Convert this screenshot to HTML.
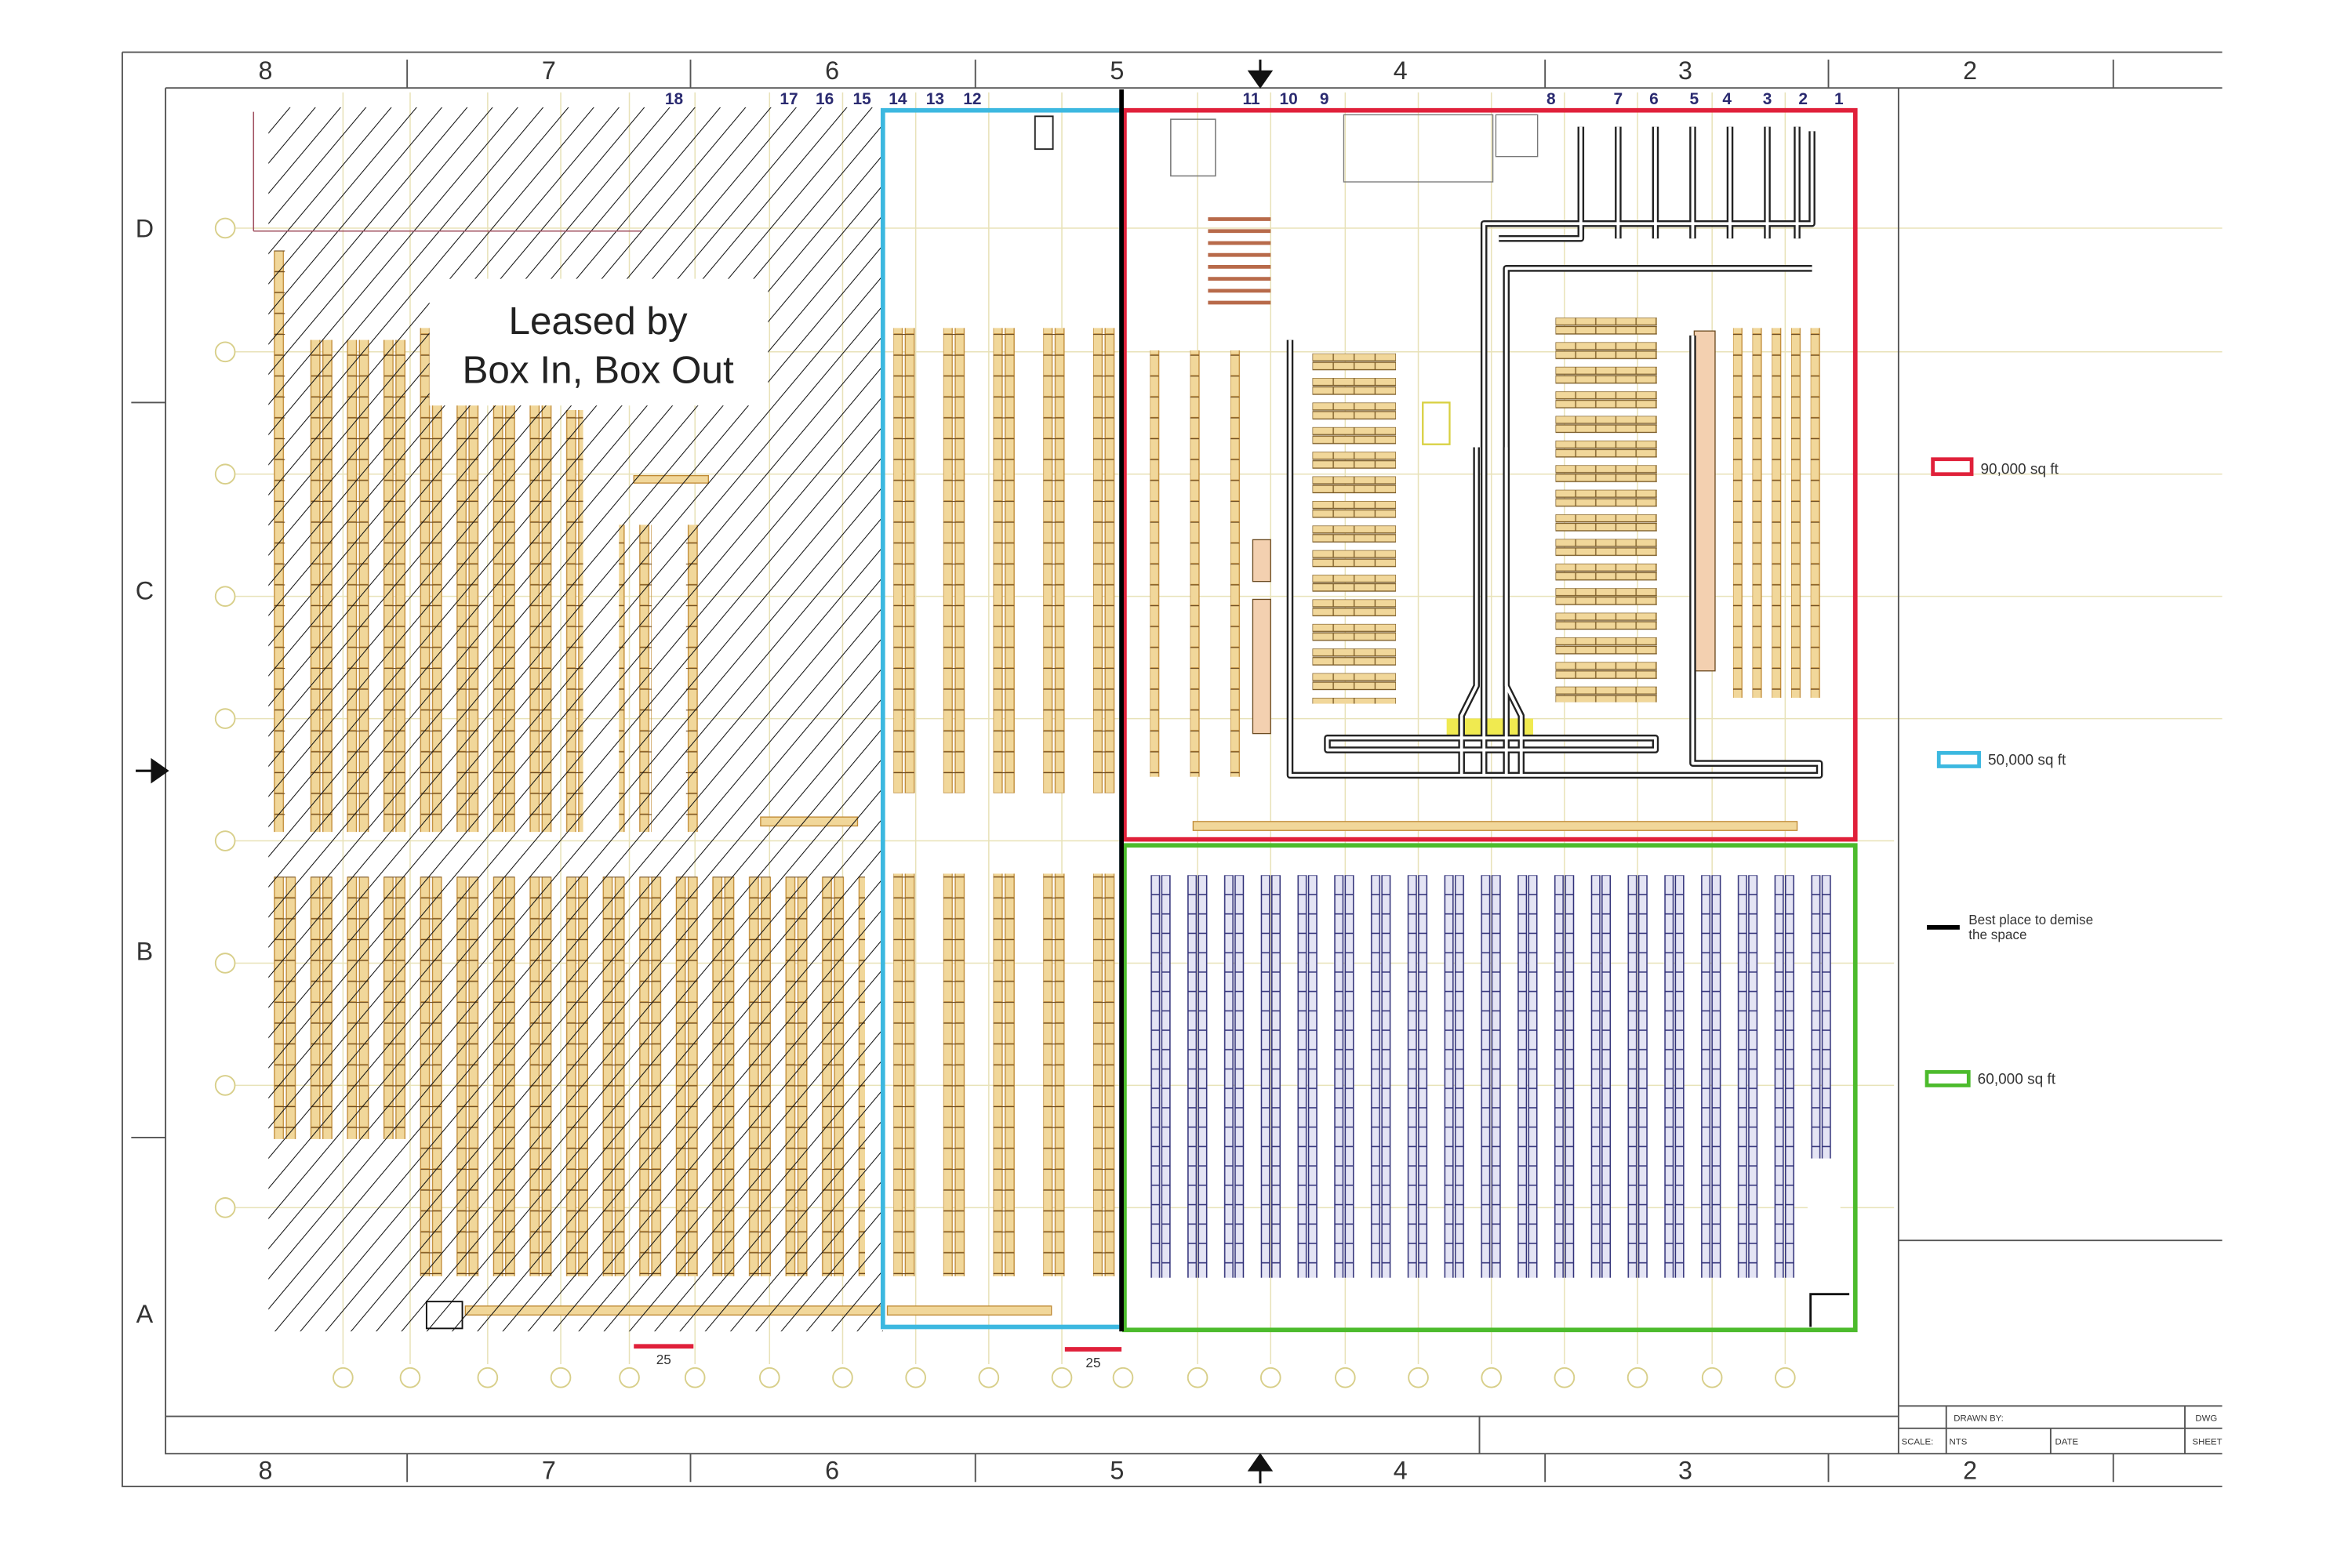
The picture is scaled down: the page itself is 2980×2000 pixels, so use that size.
<!DOCTYPE html>
<html><head><meta charset="utf-8"><style>
html,body{margin:0;padding:0;background:#fff;}
svg{display:block;}
text{font-family:"Liberation Sans",sans-serif;}
</style></head><body>
<svg width="2980" height="2000" viewBox="0 0 1567 1051.7" preserveAspectRatio="none" xmlns="http://www.w3.org/2000/svg">
<defs>
<pattern id="hatch" patternUnits="userSpaceOnUse" width="13" height="13" patternTransform="rotate(40)">
<line x1="0" y1="0" x2="0" y2="13" stroke="#111" stroke-width="1.1"/></pattern>
<pattern id="rkT" patternUnits="userSpaceOnUse" x="183" y="0" width="24.5" height="14">
<rect x="1" y="0" width="6" height="14" fill="#f1d79a" stroke="#c08a35" stroke-width="0.7"/>
<rect x="9" y="0" width="6" height="14" fill="#f1d79a" stroke="#c08a35" stroke-width="0.7"/>
<line x1="1" y1="0.3" x2="15" y2="0.3" stroke="#6b4a20" stroke-width="0.6"/></pattern>
<pattern id="rkC" patternUnits="userSpaceOnUse" x="599" y="0" width="33.5" height="14">
<rect x="0" y="0" width="6" height="14" fill="#f1d79a" stroke="#c08a35" stroke-width="0.7"/>
<rect x="8" y="0" width="6" height="14" fill="#f1d79a" stroke="#c08a35" stroke-width="0.7"/>
<line x1="0" y1="0.3" x2="14" y2="0.3" stroke="#6b4a20" stroke-width="0.6"/></pattern>
<pattern id="rkR" patternUnits="userSpaceOnUse" x="771" y="0" width="27" height="14">
<rect x="0" y="0" width="6" height="14" fill="#f1d79a" stroke="#c08a35" stroke-width="0.7"/>
<line x1="0" y1="0.3" x2="6" y2="0.3" stroke="#6b4a20" stroke-width="0.6"/></pattern>
<pattern id="rkV" patternUnits="userSpaceOnUse" x="1162" y="0" width="13" height="14">
<rect x="0" y="0" width="6" height="14" fill="#f1d79a" stroke="#c08a35" stroke-width="0.7"/>
<line x1="0" y1="0.3" x2="6" y2="0.3" stroke="#6b4a20" stroke-width="0.6"/></pattern>
<pattern id="rkH" patternUnits="userSpaceOnUse" x="880" y="237" width="14" height="16.5">
<rect x="0" y="0" width="14" height="5" fill="#f1d79a" stroke="#7a5a25" stroke-width="0.7"/>
<rect x="0" y="6" width="14" height="5" fill="#f1d79a" stroke="#7a5a25" stroke-width="0.7"/></pattern>
<pattern id="rkH2" patternUnits="userSpaceOnUse" x="1043" y="213" width="13.5" height="16.5">
<rect x="0" y="0" width="13.5" height="5" fill="#f1d79a" stroke="#7a5a25" stroke-width="0.7"/>
<rect x="0" y="6" width="13.5" height="5" fill="#f1d79a" stroke="#7a5a25" stroke-width="0.7"/></pattern>
<pattern id="rkB" patternUnits="userSpaceOnUse" x="771" y="587" width="24.6" height="13">
<rect x="1" y="0" width="5.5" height="13" fill="#e4e4f4" stroke="#303078" stroke-width="0.8"/>
<rect x="8" y="0" width="5.5" height="13" fill="#e4e4f4" stroke="#303078" stroke-width="0.8"/></pattern>
</defs>

<g stroke="#e8e2b8" stroke-width="0.8">
<line x1="230" y1="62" x2="230" y2="915"/><line x1="275" y1="62" x2="275" y2="915"/><line x1="327" y1="62" x2="327" y2="915"/><line x1="376" y1="62" x2="376" y2="915"/><line x1="422" y1="62" x2="422" y2="915"/><line x1="466" y1="62" x2="466" y2="915"/><line x1="516" y1="62" x2="516" y2="915"/><line x1="565" y1="62" x2="565" y2="915"/><line x1="614" y1="62" x2="614" y2="915"/><line x1="663" y1="62" x2="663" y2="915"/><line x1="712" y1="62" x2="712" y2="915"/><line x1="803" y1="62" x2="803" y2="915"/><line x1="852" y1="62" x2="852" y2="915"/><line x1="902" y1="62" x2="902" y2="915"/><line x1="951" y1="62" x2="951" y2="915"/><line x1="1000" y1="62" x2="1000" y2="915"/><line x1="1049" y1="62" x2="1049" y2="915"/><line x1="1098" y1="62" x2="1098" y2="915"/><line x1="1148" y1="62" x2="1148" y2="915"/><line x1="1197" y1="62" x2="1197" y2="915"/>
<line x1="158" y1="153" x2="1490" y2="153"/><line x1="158" y1="236" x2="1490" y2="236"/><line x1="158" y1="318" x2="1490" y2="318"/><line x1="158" y1="400" x2="1490" y2="400"/><line x1="158" y1="482" x2="1490" y2="482"/><line x1="158" y1="564" x2="1270" y2="564"/><line x1="158" y1="646" x2="1270" y2="646"/><line x1="158" y1="728" x2="1270" y2="728"/><line x1="158" y1="810" x2="1270" y2="810"/>
</g>

<g stroke="#555" stroke-width="1" fill="none">
<path d="M82 35 H1490 M82 35 V997 H1490"/>
<path d="M111 59 H1490 M111 59 V975 H1490 M111 950 H1273 M992 950 V975"/>
<line x1="273" y1="40" x2="273" y2="59"/><line x1="463" y1="40" x2="463" y2="59"/><line x1="654" y1="40" x2="654" y2="59"/><line x1="1036" y1="40" x2="1036" y2="59"/><line x1="1226" y1="40" x2="1226" y2="59"/><line x1="1417" y1="40" x2="1417" y2="59"/>
<line x1="273" y1="975" x2="273" y2="994"/><line x1="463" y1="975" x2="463" y2="994"/><line x1="654" y1="975" x2="654" y2="994"/><line x1="1036" y1="975" x2="1036" y2="994"/><line x1="1226" y1="975" x2="1226" y2="994"/><line x1="1417" y1="975" x2="1417" y2="994"/>
<line x1="88" y1="270" x2="111" y2="270"/><line x1="88" y1="763" x2="111" y2="763"/>
<line x1="1273" y1="59" x2="1273" y2="975"/>
<path d="M1273 832 H1490 M1273 943 H1490 M1273 958 H1490 M1305 943 V975 M1375 958 V975 M1465 943 V975"/>
</g>
<g font-size="17" fill="#333" text-anchor="middle">
<text x="178" y="53">8</text><text x="368" y="53">7</text><text x="558" y="53">6</text><text x="749" y="53">5</text><text x="939" y="53">4</text><text x="1130" y="53">3</text><text x="1321" y="53">2</text>
<text x="178" y="992">8</text><text x="368" y="992">7</text><text x="558" y="992">6</text><text x="749" y="992">5</text><text x="939" y="992">4</text><text x="1130" y="992">3</text><text x="1321" y="992">2</text>
<text x="97" y="159">D</text><text x="97" y="402">C</text><text x="97" y="644">B</text><text x="97" y="887">A</text>
</g>
<g fill="#111" stroke="#111" stroke-width="1.6">
<line x1="845" y1="40" x2="845" y2="58"/><path d="M838 48 L852 48 L845 58 Z"/>
<line x1="845" y1="976" x2="845" y2="995"/><path d="M838 986 L852 986 L845 976 Z"/>
<line x1="91" y1="517" x2="112" y2="517"/><path d="M102 510 L102 524 L112 517 Z"/>
</g>
<g font-family="Liberation Serif,serif" font-size="11" fill="#2a2a70" text-anchor="middle" font-weight="bold">
<text x="452" y="70">18</text><text x="529" y="70">17</text><text x="553" y="70">16</text><text x="578" y="70">15</text><text x="602" y="70">14</text><text x="627" y="70">13</text><text x="652" y="70">12</text><text x="839" y="70">11</text><text x="864" y="70">10</text><text x="888" y="70">9</text><text x="1040" y="70">8</text><text x="1085" y="70">7</text><text x="1109" y="70">6</text><text x="1136" y="70">5</text><text x="1158" y="70">4</text><text x="1185" y="70">3</text><text x="1209" y="70">2</text><text x="1233" y="70">1</text>
</g>

<g fill="#fff" stroke="#d8cf8a" stroke-width="1">
<circle cx="230" cy="924" r="6.5"/><circle cx="275" cy="924" r="6.5"/><circle cx="327" cy="924" r="6.5"/><circle cx="376" cy="924" r="6.5"/><circle cx="422" cy="924" r="6.5"/><circle cx="466" cy="924" r="6.5"/><circle cx="516" cy="924" r="6.5"/><circle cx="565" cy="924" r="6.5"/><circle cx="614" cy="924" r="6.5"/><circle cx="663" cy="924" r="6.5"/><circle cx="712" cy="924" r="6.5"/><circle cx="753" cy="924" r="6.5"/><circle cx="803" cy="924" r="6.5"/><circle cx="852" cy="924" r="6.5"/><circle cx="902" cy="924" r="6.5"/><circle cx="951" cy="924" r="6.5"/><circle cx="1000" cy="924" r="6.5"/><circle cx="1049" cy="924" r="6.5"/><circle cx="1098" cy="924" r="6.5"/><circle cx="1148" cy="924" r="6.5"/><circle cx="1197" cy="924" r="6.5"/>
<circle cx="151" cy="153" r="6.5"/><circle cx="151" cy="236" r="6.5"/><circle cx="151" cy="318" r="6.5"/><circle cx="151" cy="400" r="6.5"/><circle cx="151" cy="482" r="6.5"/><circle cx="151" cy="564" r="6.5"/><circle cx="151" cy="646" r="6.5"/><circle cx="151" cy="728" r="6.5"/><circle cx="151" cy="810" r="6.5"/>
</g>

<rect x="183" y="168" width="8" height="390" fill="url(#rkT)"/>
<rect x="199" y="228" width="73" height="330" fill="url(#rkT)"/>
<rect x="272" y="220" width="100" height="338" fill="url(#rkT)"/>
<rect x="377" y="275" width="14" height="283" fill="url(#rkT)"/>
<rect x="415" y="352" width="22" height="206" fill="url(#rkT)"/>
<rect x="460" y="352" width="14" height="206" fill="url(#rkT)"/>
<rect x="183" y="588" width="97" height="176" fill="url(#rkT)"/>
<rect x="280" y="588" width="300" height="268" fill="url(#rkT)"/>
<rect x="312" y="876" width="280" height="6" fill="#f1d79a" stroke="#c08a35" stroke-width="0.7"/>
<rect x="510" y="548" width="65" height="6" fill="#f1d79a" stroke="#c08a35" stroke-width="0.7"/>
<rect x="425" y="319" width="50" height="5" fill="#f1d79a" stroke="#c08a35" stroke-width="0.7"/>
<rect x="180" y="72" width="412" height="821" fill="url(#hatch)"/>
<rect x="286" y="873" width="24" height="18" fill="none" stroke="#111" stroke-width="1"/>
<path d="M170 75 V155 M170 155 H430" stroke="#a05060" stroke-width="0.8" fill="none"/>
<rect x="288" y="187" width="227" height="85" fill="#fff"/>
<text x="401" y="224" font-size="26" fill="#222" text-anchor="middle">Leased by</text>
<text x="401" y="257" font-size="26" fill="#222" text-anchor="middle">Box In, Box Out</text>

<rect x="599" y="220" width="150" height="312" fill="url(#rkC)"/>
<rect x="599" y="586" width="150" height="270" fill="url(#rkC)"/>
<rect x="595" y="876" width="110" height="6" fill="#f1d79a" stroke="#c08a35" stroke-width="0.7"/>
<rect x="694" y="78" width="12" height="22" fill="#fff" stroke="#222" stroke-width="1"/>

<rect x="771" y="235" width="62" height="286" fill="url(#rkR)"/>
<rect x="880" y="237" width="56" height="235" fill="url(#rkH)"/>
<rect x="1043" y="213" width="68" height="258" fill="url(#rkH2)"/>
<rect x="1162" y="220" width="60" height="248" fill="url(#rkV)"/>
<rect x="1136" y="222" width="14" height="228" fill="#f3d0b0" stroke="#6b4a20" stroke-width="0.7"/>
<g stroke="#b86a4a" stroke-width="2.5"><line x1="810" y1="147" x2="852" y2="147"/><line x1="810" y1="155" x2="852" y2="155"/><line x1="810" y1="163" x2="852" y2="163"/><line x1="810" y1="171" x2="852" y2="171"/><line x1="810" y1="179" x2="852" y2="179"/><line x1="810" y1="187" x2="852" y2="187"/><line x1="810" y1="195" x2="852" y2="195"/><line x1="810" y1="203" x2="852" y2="203"/></g>
<rect x="840" y="362" width="12" height="28" fill="#f3d0b0" stroke="#6b4a20" stroke-width="0.7"/>
<rect x="840" y="402" width="12" height="90" fill="#f3d0b0" stroke="#6b4a20" stroke-width="0.7"/>
<rect x="800" y="551" width="405" height="6" fill="#f1d79a" stroke="#c08a35" stroke-width="0.7"/>
<rect x="970" y="482" width="58" height="12" fill="#f0ea50"/>
<rect x="954" y="270" width="18" height="28" fill="#fff" stroke="#d8d040" stroke-width="1.2"/>
<rect x="901" y="77" width="100" height="45" fill="none" stroke="#777" stroke-width="0.7"/>
<rect x="1003" y="77" width="28" height="28" fill="none" stroke="#777" stroke-width="0.7"/>
<rect x="785" y="80" width="30" height="38" fill="none" stroke="#777" stroke-width="0.8"/>
<g fill="none" stroke="#222" stroke-width="4.5" stroke-linejoin="round">
<path d="M865 228 V520 H1220 V512 H1135 V225"/>
<path d="M995 520 V150 H1215 V88"/>
<path d="M1010 520 V180 H1215"/>
<path d="M1005 160 H1060 V85 M1085 160 V85 M1110 160 V85 M1135 160 V85 M1160 160 V85 M1185 160 V85 M1205 160 V85"/>
<path d="M890 495 H1110 V503 H890 Z"/>
<path d="M980 520 V480 L990 460 V300 M1020 520 V480 L1010 460 V300"/>
</g>
<g fill="none" stroke="#fff" stroke-width="2" stroke-linejoin="round">
<path d="M865 228 V520 H1220 V512 H1135 V225"/>
<path d="M995 520 V150 H1215 V88"/>
<path d="M1010 520 V180 H1215"/>
<path d="M1005 160 H1060 V85 M1085 160 V85 M1110 160 V85 M1135 160 V85 M1160 160 V85 M1185 160 V85 M1205 160 V85"/>
<path d="M890 495 H1110 V503 H890 Z"/>
<path d="M980 520 V480 L990 460 V300 M1020 520 V480 L1010 460 V300"/>
</g>

<rect x="771" y="587" width="462" height="270" fill="url(#rkB)"/>
<rect x="1212" y="777" width="22" height="82" fill="#fff"/>
<path d="M1214 890 V868 H1240" stroke="#111" stroke-width="1.5" fill="none"/>

<rect x="592" y="74" width="160" height="816" fill="none" stroke="#3cb8e0" stroke-width="3"/>
<rect x="754" y="74" width="490" height="489" fill="none" stroke="#e0203a" stroke-width="3"/>
<rect x="754" y="567" width="490" height="325" fill="none" stroke="#4cbb2c" stroke-width="3"/>
<line x1="752" y1="60" x2="752" y2="893" stroke="#000" stroke-width="3"/>

<line x1="425" y1="903" x2="465" y2="903" stroke="#e0203a" stroke-width="3"/>
<text x="445" y="915" font-size="9" text-anchor="middle" fill="#333">25</text>
<line x1="714" y1="905" x2="752" y2="905" stroke="#e0203a" stroke-width="3"/>
<text x="733" y="917" font-size="9" text-anchor="middle" fill="#333">25</text>

<rect x="1296" y="308" width="26" height="10" fill="none" stroke="#e0203a" stroke-width="2.5"/>
<text x="1328" y="318" font-size="10" fill="#333">90,000 sq ft</text>
<rect x="1300" y="505" width="27" height="9" fill="none" stroke="#3cb8e0" stroke-width="2.5"/>
<text x="1333" y="513" font-size="10" fill="#333">50,000 sq ft</text>
<line x1="1292" y1="622" x2="1314" y2="622" stroke="#000" stroke-width="3"/>
<text x="1320" y="620" font-size="9" fill="#333">Best place to demise</text>
<text x="1320" y="630" font-size="9" fill="#333">the space</text>
<rect x="1292" y="719" width="28" height="9" fill="none" stroke="#4cbb2c" stroke-width="2.5"/>
<text x="1326" y="727" font-size="10" fill="#333">60,000 sq ft</text>

<g font-size="6" fill="#333">
<text x="1310" y="953">DRAWN BY:</text><text x="1472" y="953">DWG</text>
<text x="1275" y="969">SCALE:</text><text x="1307" y="969">NTS</text><text x="1378" y="969">DATE</text><text x="1470" y="969">SHEET</text>
</g>
</svg>
</body></html>
